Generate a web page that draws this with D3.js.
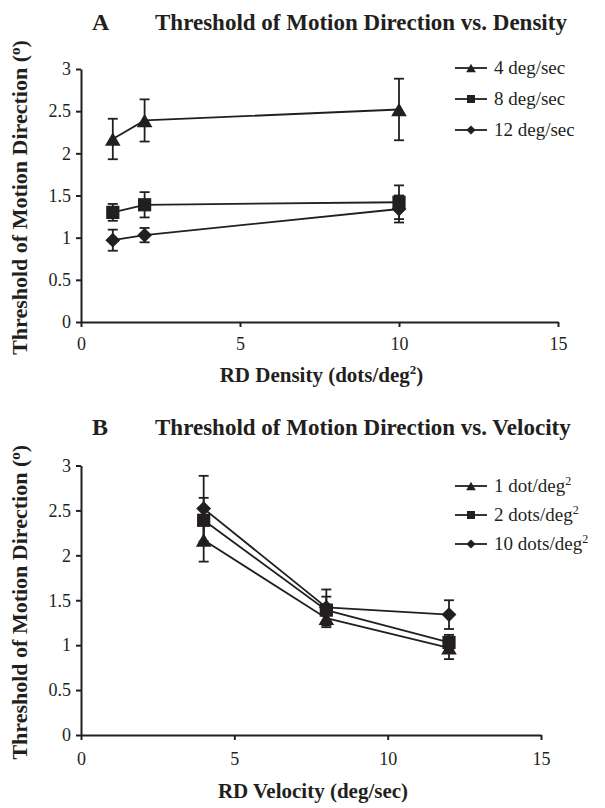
<!DOCTYPE html>
<html>
<head>
<meta charset="utf-8">
<script src="https://cdn.jsdelivr.net/npm/d3@7"></script>
<style>
  body { margin: 0; background: #fff; }
  svg text { font-family: "Liberation Serif", "DejaVu Serif", serif; fill: #231f20; }
</style>
</head>
<body>
<div id="chart"></div>
<script>
// Data
const densities = [1, 2, 10];          // dots/deg^2
const velocities = [4, 8, 12];         // deg/sec
// mean threshold (deg) per velocity, across densities 1, 2, 10
const thr4 = [2.17, 2.39, 2.52];
const thr8 = [1.30, 1.39, 1.42];
const thr12 = [0.97, 1.03, 1.34];
// error bar half-lengths
const err4 = [0.24, 0.25, 0.365];
const err8 = [0.10, 0.15, 0.20];
const err12 = [0.125, 0.085, 0.16];
const xTicks = [0, 5, 10, 15];
const yTicks = [0, 0.5, 1, 1.5, 2, 2.5, 3];

const width = 605;
const height = 808;
const ink = "#231f20";

const svg = d3.select("#chart")
    .append("svg")
    .attr("width", width)
    .attr("height", height);

// square rotated 45deg, like the spreadsheet diamond marker
const diamond = {
    draw(ctx, size) {
        const r = Math.sqrt(size / 2);
        ctx.moveTo(0, -r);
        ctx.lineTo(r, 0);
        ctx.lineTo(0, r);
        ctx.lineTo(-r, 0);
        ctx.closePath();
    }
};
// triangle centred on its box instead of its centroid
const triangle = {
    draw(ctx, size) {
        const s = Math.sqrt(size * 4 / Math.sqrt(3));
        const h = s * Math.sqrt(3) / 2;
        ctx.moveTo(0, -h / 2);
        ctx.lineTo(s / 2, h / 2);
        ctx.lineTo(-s / 2, h / 2);
        ctx.closePath();
    }
};
const shapes = [triangle, d3.symbolSquare, diamond];
const markerSize = [105, 175, 110];
const legendSize = [40, 64, 42];

const thr = [thr4, thr8, thr12];
const err = [err4, err8, err12];

// panel A: one series per velocity, x = density
const seriesA = velocities.map((v, i) => ({
    label: [v + " deg/sec"],
    shape: shapes[i], size: markerSize[i], lsize: legendSize[i],
    points: densities.map((d, j) => ({ x: d, y: thr[i][j], e: err[i][j] }))
}));
// panel B: one series per density, x = velocity
const densityLabels = ["1 dot/deg", "2 dots/deg", "10 dots/deg"];
const seriesB = densities.map((d, j) => ({
    label: [densityLabels[j], "2"],
    shape: shapes[j], size: markerSize[j], lsize: legendSize[j],
    points: velocities.map((v, i) => ({ x: v, y: thr[i][j], e: err[i][j] }))
}));

function panel(cfg) {
    const g = svg.append("g");
    const x = d3.scaleLinear().domain([0, 15]).range(cfg.xr);
    const y = d3.scaleLinear().domain([0, 3]).range(cfg.yr);

    // axes
    const xAxis = g.append("g")
        .attr("transform", `translate(0,${cfg.yr[0]})`)
        .call(d3.axisBottom(x).tickValues(xTicks).tickSize(5).tickSizeOuter(0).tickPadding(cfg.xPad));
    const yAxis = g.append("g")
        .attr("transform", `translate(${cfg.xr[0]},0)`)
        .call(d3.axisLeft(y).tickValues(yTicks).tickSize(5).tickSizeOuter(0)
            .tickPadding(5).tickFormat(d3.format("~g")));
    [xAxis, yAxis].forEach(a => {
        a.select(".domain").attr("stroke", ink).attr("stroke-width", 2);
        a.selectAll(".tick line").attr("stroke", ink).attr("stroke-width", 2);
        a.selectAll(".tick text").attr("fill", ink)
            .style("font-size", "18px").style("font-family", "Liberation Serif");
    });

    const line = d3.line().x(d => x(d.x)).y(d => y(d.y));

    cfg.series.forEach(s => {
        g.append("path")
            .datum(s.points)
            .attr("fill", "none")
            .attr("stroke", ink)
            .attr("stroke-width", 1.8)
            .attr("d", line);

        // error bars
        const eb = g.append("g").selectAll("g")
            .data(s.points)
            .join("g")
            .attr("stroke", ink)
            .attr("stroke-width", 1.8);
        eb.append("line")
            .attr("x1", d => x(d.x)).attr("x2", d => x(d.x))
            .attr("y1", d => y(d.y - d.e)).attr("y2", d => y(d.y + d.e));
        eb.append("line")
            .attr("x1", d => x(d.x) - 5).attr("x2", d => x(d.x) + 5)
            .attr("y1", d => y(d.y + d.e)).attr("y2", d => y(d.y + d.e));
        eb.append("line")
            .attr("x1", d => x(d.x) - 5).attr("x2", d => x(d.x) + 5)
            .attr("y1", d => y(d.y - d.e)).attr("y2", d => y(d.y - d.e));

        g.append("g").selectAll("path")
            .data(s.points)
            .join("path")
            .attr("transform", d => `translate(${x(d.x)},${y(d.y)})`)
            .attr("d", d3.symbol(s.shape, s.size))
            .attr("fill", ink);
    });

    // legend
    const lg = g.append("g");
    cfg.series.forEach((s, i) => {
        const ly = cfg.legendY + i * cfg.legendStep;
        lg.append("line")
            .attr("x1", 455).attr("x2", 487)
            .attr("y1", ly).attr("y2", ly)
            .attr("stroke", ink).attr("stroke-width", 1.8);
        lg.append("path")
            .attr("transform", `translate(471,${ly})`)
            .attr("d", d3.symbol(s.shape, s.lsize))
            .attr("fill", ink);
        const t = lg.append("text")
            .attr("x", 494).attr("y", ly + 6)
            .style("font-size", "19px");
        t.append("tspan").text(s.label[0]);
        if (s.label[1]) {
            t.append("tspan").attr("dy", -7)
                .style("font-size", "12px").text(s.label[1]);
        }
    });

    // panel letter and title
    g.append("text")
        .attr("x", 92).attr("y", cfg.titleY + 8)
        .style("font-size", "24px").style("font-weight", "bold")
        .text(cfg.letter);
    g.append("text")
        .attr("x", 155).attr("y", cfg.titleY + 8)
        .style("font-size", "23px").style("font-weight", "bold")
        .text(cfg.title);

    // x title
    const xt = g.append("text")
        .attr("x", (cfg.xr[0] + cfg.xr[1]) / 2 + 2)
        .attr("y", cfg.yr[0] + cfg.xTitleDy)
        .attr("text-anchor", "middle")
        .style("font-size", "21px").style("font-weight", "bold");
    xt.append("tspan").text(cfg.xTitle[0]);
    if (cfg.xTitle[1]) {
        xt.append("tspan").attr("dy", -8).style("font-size", "13px").text("2");
        xt.append("tspan").attr("dy", 8).text(cfg.xTitle[1]);
    }

    // y title
    const yt = g.append("text")
        .attr("transform", `translate(27,${(cfg.yr[0] + cfg.yr[1]) / 2 + 2}) rotate(-90)`)
        .attr("text-anchor", "middle")
        .style("font-size", "22px").style("font-weight", "bold");
    yt.append("tspan").text("Threshold of Motion Direction (");
    yt.append("tspan").attr("dy", -7).style("font-size", "15px").text("o");
    yt.append("tspan").attr("dy", 7).text(")");
}

panel({
    letter: "A",
    title: "Threshold of Motion Direction vs. Density",
    titleY: 22,
    xr: [81, 558], yr: [322, 69],
    xPad: 10,
    series: seriesA,
    legendY: 68, legendStep: 31,
    xTitle: ["RD Density (dots/deg", ")"],
    xTitleDy: 60
});

panel({
    letter: "B",
    title: "Threshold of Motion Direction vs. Velocity",
    titleY: 427,
    xr: [81, 541], yr: [735, 465.5],
    xPad: 12,
    series: seriesB,
    legendY: 486, legendStep: 29,
    xTitle: ["RD Velocity (deg/sec)"],
    xTitleDy: 63
});
</script>
</body>
</html>
